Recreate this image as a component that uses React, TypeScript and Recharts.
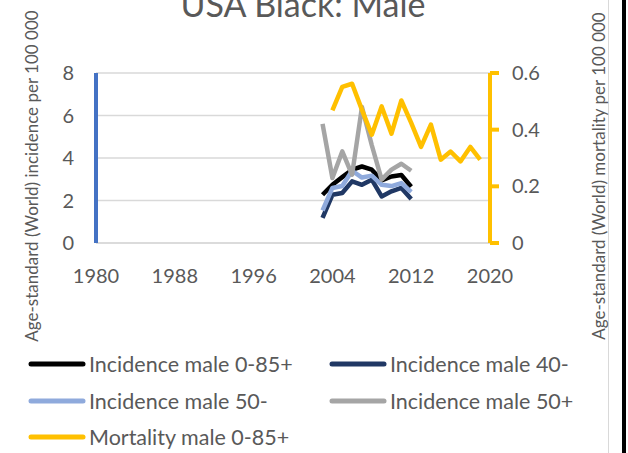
import React from 'react';
import { LineChart, Line, XAxis, YAxis, CartesianGrid, Legend, Label } from 'recharts';

const years = [2003, 2004, 2005, 2006, 2007, 2008, 2009, 2010, 2011, 2012, 2013, 2014, 2015, 2016, 2017, 2018, 2019];
const incidenceMale085 = [2.27, 2.74, 3.1, 3.45, 3.6, 3.45, 2.95, 3.13, 3.2, 2.65];
const incidenceMale40 = [1.18, 2.27, 2.35, 2.9, 2.74, 2.98, 2.19, 2.43, 2.59, 2.07];
const incidenceMale50minus = [1.53, 2.59, 2.68, 3.4, 3.08, 3.17, 2.74, 2.68, 2.82, 2.4];
const incidenceMale50plus = [5.61, 3.06, 4.31, 3.21, 6.4, 4.6, 2.98, 3.45, 3.73, 3.4];
const mortalityMale085 = [null, 0.468, 0.551, 0.562, 0.47, 0.382, 0.482, 0.386, 0.503, 0.424, 0.339, 0.418, 0.294, 0.323, 0.288, 0.339, 0.294];

const seriesNames = ['Incidence male 0-85+', 'Incidence male 40-', 'Incidence male 50-', 'Incidence male 50+', 'Mortality male 0-85+'];
const xTicks = [1980, 1988, 1996, 2004, 2012, 2020];
const leftTicks = [0, 2, 4, 6, 8];
const rightTicks = [0, 0.2, 0.4, 0.6];

const title = 'USA Black: Male';
const leftTitle = 'Age-standard (World) incidence per 100 000';
const rightTitle = 'Age-standard (World) mortality per 100 000';

const data = years.map((year, i) => ({
  year,
  a: incidenceMale085[i] ?? null,
  b: incidenceMale40[i] ?? null,
  c: incidenceMale50minus[i] ?? null,
  d: incidenceMale50plus[i] ?? null,
  m: mortalityMale085[i] ?? null,
}));

const FONT = 'Lato, "Open Sans", sans-serif';
const TXT = '#595959';

const LegendContent = (props: any) => {
  const items = [...(props.payload || [])].sort(
    (p: any, q: any) => seriesNames.indexOf(p.value) - seriesNames.indexOf(q.value)
  );
  return (
    <div style={{ display: 'grid', gridTemplateColumns: '301px 260px', rowGap: 0, paddingLeft: 28, fontFamily: FONT }}>
      {items.map((it: any) => (
        <div key={it.value} style={{ display: 'flex', alignItems: 'center', height: 36.5 }}>
          <svg width={61} height={10} style={{ flex: 'none' }}>
            <line x1={3} y1={5} x2={55} y2={5} stroke={it.color} strokeWidth={5} strokeLinecap="round" />
          </svg>
          <span style={{ fontSize: 21.5, color: TXT, whiteSpace: 'nowrap' }}>{it.value}</span>
        </div>
      ))}
    </div>
  );
};

const AxisTitle = (props: any) => {
  const { viewBox, value, cx } = props;
  const cy = viewBox.y + viewBox.height / 2 + 18;
  return (
    <text x={cx} y={cy} transform={`rotate(-90 ${cx} ${cy})`} textAnchor="middle" dominantBaseline="central"
      fill={TXT} fontSize={17} fontFamily={FONT}>{value}</text>
  );
};

export default function App() {
  return (
    <div style={{ position: 'absolute', left: 0, top: 0, width: 628, height: 453, background: '#fff', overflow: 'hidden' }}>
      <div style={{ position: 'absolute', left: 0, width: 606, top: -13.5, lineHeight: '34px', textAlign: 'center', fontFamily: FONT, fontSize: 34, color: TXT }}>{title}</div>
      <div style={{ position: 'absolute', left: 608, top: 0, width: 1, height: 453, background: '#D9D9D9' }} />
      <div style={{ position: 'absolute', left: 622, top: 0, width: 4, height: 453, background: '#000' }} />
      <LineChart width={628} height={453} data={data} margin={{ top: 73, right: 0, bottom: 170, left: 0 }}>
        <CartesianGrid vertical={false} stroke="#D9D9D9" strokeWidth={1.5} yAxisId="left" />
        <XAxis dataKey="year" type="number" domain={[1980, 2020]} ticks={xTicks} height={40}
          axisLine={{ stroke: '#D9D9D9', strokeWidth: 1.5 }} tickLine={false} tickSize={0} tickMargin={26}
          tick={{ fill: TXT, fontSize: 20, fontFamily: FONT }} />
        <YAxis yAxisId="left" domain={[0, 8]} ticks={leftTicks} width={96}
          axisLine={{ stroke: '#4472C4', strokeWidth: 4 }} tickLine={false} tickSize={0} tickMargin={22}
          tick={{ fill: TXT, fontSize: 20, fontFamily: FONT }}>
          <Label content={(p: any) => <AxisTitle {...p} value={leftTitle} cx={31} />} />
        </YAxis>
        <YAxis yAxisId="right" orientation="right" domain={[0, 0.6]} ticks={rightTicks} width={138}
          axisLine={{ stroke: '#FFC000', strokeWidth: 4 }} tickLine={{ stroke: '#FFC000', strokeWidth: 4 }}
          tickSize={9} tickMargin={13}
          tickFormatter={(v: number) => (v === 0 ? '0' : v.toFixed(1))}
          tick={{ fill: TXT, fontSize: 20, fontFamily: FONT }}>
          <Label content={(p: any) => <AxisTitle {...p} value={rightTitle} cx={598} />} />
        </YAxis>
        <Legend layout="horizontal" verticalAlign="middle" align="center" content={LegendContent}
          wrapperStyle={{ top: 346, left: 0, width: 628 }} />
        <Line yAxisId="left" dataKey="a" name={seriesNames[0]} stroke="#000000" strokeWidth={4.5} dot={false} strokeLinejoin="round" isAnimationActive={false} />
        <Line yAxisId="left" dataKey="b" name={seriesNames[1]} stroke="#203864" strokeWidth={4.5} dot={false} strokeLinejoin="round" isAnimationActive={false} />
        <Line yAxisId="left" dataKey="c" name={seriesNames[2]} stroke="#8FAADC" strokeWidth={4.5} dot={false} strokeLinejoin="round" isAnimationActive={false} />
        <Line yAxisId="left" dataKey="d" name={seriesNames[3]} stroke="#A5A5A5" strokeWidth={4.5} dot={false} strokeLinejoin="round" isAnimationActive={false} />
        <Line yAxisId="right" dataKey="m" name={seriesNames[4]} stroke="#FFC000" strokeWidth={4.5} dot={false} strokeLinejoin="round" isAnimationActive={false} />
      </LineChart>
    </div>
  );
}
